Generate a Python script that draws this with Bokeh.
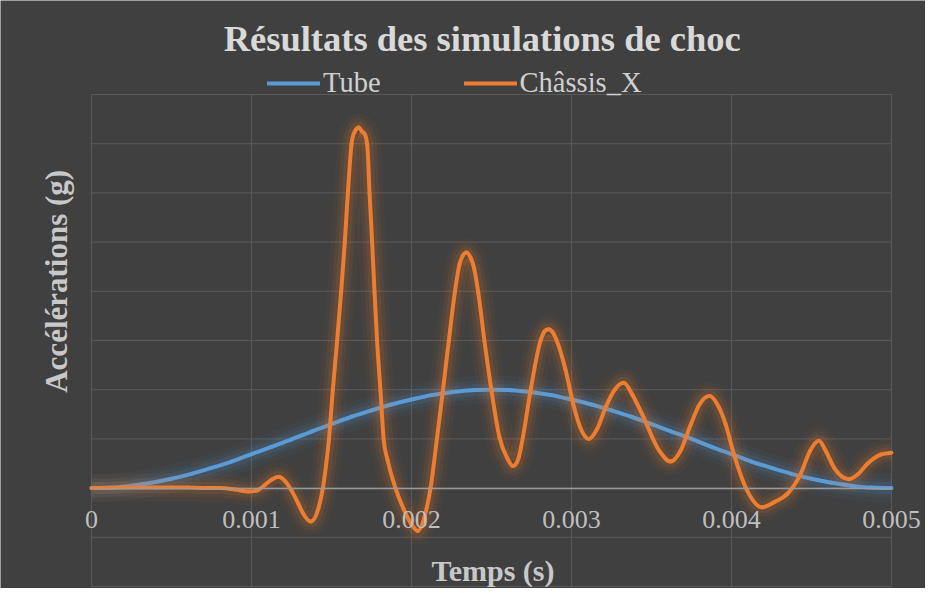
from bokeh.plotting import figure
from bokeh.models import Range1d, FixedTicker, Label, Legend, LegendItem
from bokeh.embed import file_html
from bokeh.resources import INLINE
import math

# ---------------- data ----------------
title_text = "Résultats des simulations de choc"
x_label = "Temps (s)"
y_label = "Accélérations (g)"
series_names = ["Tube", "Châssis_X"]

x_ticks = [0, 0.001, 0.002, 0.003, 0.004, 0.005]
x_tick_labels = ["0", "0.001", "0.002", "0.003", "0.004", "0.005"]
y_grid = [-2, -1, 0, 1, 2, 3, 4, 5, 6, 7, 8]

tube_t = [0, 0.000125, 0.00025, 0.000375, 0.0005, 0.000625, 0.00075, 0.000875,
          0.001, 0.001125, 0.00125, 0.001375, 0.0015, 0.001625, 0.00175, 0.001875,
          0.002, 0.002125, 0.00225, 0.002375, 0.0025, 0.002625, 0.00275, 0.002875,
          0.003, 0.003125, 0.00325, 0.003375, 0.0035, 0.003625, 0.00375, 0.003875,
          0.004, 0.004125, 0.00425, 0.004375, 0.0045, 0.004625, 0.00475, 0.004875, 0.005]
tube_v = [0, 0.01, 0.05, 0.11, 0.19, 0.29, 0.41, 0.54,
          0.69, 0.84, 0.99, 1.15, 1.30, 1.45, 1.58, 1.70,
          1.80, 1.89, 1.95, 1.99, 2.00, 1.99, 1.95, 1.89,
          1.80, 1.70, 1.58, 1.45, 1.30, 1.15, 1.00, 0.84,
          0.69, 0.54, 0.41, 0.29, 0.19, 0.11, 0.05, 0.01, 0]

chassis_t = [0, 0.0001, 0.0002, 0.0003, 0.0004, 0.0005, 0.0006, 0.0007, 0.0008, 0.0009, 0.00098,
             0.00104, 0.00109, 0.00113, 0.00117, 0.00121, 0.00125, 0.00129, 0.00132, 0.00137,
             0.00142, 0.001446, 0.001467, 0.001483, 0.001508, 0.001535, 0.00156, 0.001583,
             0.001602, 0.001625, 0.00165, 0.001671, 0.00169, 0.001723, 0.001738, 0.001754,
             0.001769, 0.001785, 0.001806, 0.001827, 0.00185, 0.0019, 0.00195, 0.002, 0.00204,
             0.00208, 0.002119, 0.00216, 0.002196, 0.002233, 0.002271, 0.0023, 0.00232, 0.002344,
             0.00237, 0.002385, 0.002417, 0.002456, 0.0025, 0.00255, 0.0026, 0.002633, 0.00267,
             0.002696, 0.002744, 0.002806, 0.00283, 0.002858, 0.00288, 0.00291, 0.002963, 0.00301,
             0.003056, 0.003108, 0.00316, 0.003213, 0.00327, 0.003327, 0.00338, 0.003442, 0.00355,
             0.003619, 0.00368, 0.003744, 0.0038, 0.003863, 0.00392, 0.003963, 0.004015, 0.004098,
             0.004192, 0.00427, 0.004348, 0.004431, 0.00449, 0.004546, 0.00459, 0.00464, 0.004733,
             0.00479, 0.004848, 0.004931, 0.005]
chassis_v = [0, 0, 0.01, 0.01, 0.01, 0.01, 0.01, 0.0, 0.0, -0.03, -0.07,
             -0.04, 0.08, 0.18, 0.23, 0.14, -0.05, -0.30, -0.50, -0.68,
             -0.39, 0.0, 0.49, 0.96, 1.98, 2.99, 3.98, 4.99,
             5.98, 6.99, 7.27, 7.33, 7.25, 6.99, 5.98, 4.99,
             3.98, 2.99, 1.98, 0.96, 0.58, 0.0, -0.42, -0.74, -0.87,
             -0.60, 0.0, 1.03, 1.98, 2.99, 3.98, 4.55, 4.72, 4.79,
             4.68, 4.55, 3.98, 2.99, 1.98, 1.03, 0.60, 0.45, 0.62,
             1.03, 1.98, 2.99, 3.18, 3.23, 3.18, 2.98, 2.40, 1.72,
             1.22, 1.00, 1.20, 1.64, 2.00, 2.14, 1.90, 1.50, 0.75,
             0.54, 0.75, 1.28, 1.70, 1.87, 1.65, 1.30, 0.69, -0.05,
             -0.39, -0.28, -0.12, 0.28, 0.75, 0.96, 0.75, 0.42, 0.18,
             0.28, 0.49, 0.68, 0.72]

# ---------------- style ----------------
BG = "#404040"
GRID = "#595959"
BLUE = "#5b9bd5"
ORANGE = "#ed7d31"
FONT = "Liberation Serif"

W, H = 925, 588
PX_PER_S = 160000.0      # horizontal scale of the plot area
PX_PER_UNIT = 49.2       # vertical scale of the plot area
LEFT, TOP = 91, 94       # plot-area origin inside the figure (pixels)

x_start = x_ticks[0] - LEFT / PX_PER_S
x_end = x_start + W / PX_PER_S
y_end = y_grid[-1] + TOP / PX_PER_UNIT
y_start = y_end - H / PX_PER_UNIT

p = figure(width=W, height=H, output_backend="svg", toolbar_location=None,
           x_range=Range1d(x_start, x_end), y_range=Range1d(y_start, y_end))
p.min_border = 0
p.min_border_left = 0
p.min_border_right = 0
p.min_border_top = 0
p.min_border_bottom = 0
p.background_fill_color = BG
p.border_fill_color = BG
p.outline_line_color = None
p.xgrid.visible = False
p.ygrid.visible = False
p.yaxis.visible = False

# grid lines of the plot area, built from the tick lists
nx, ny = len(x_ticks), len(y_grid)
p.segment(x0=x_ticks, y0=[y_grid[0]] * nx, x1=x_ticks, y1=[y_grid[-1]] * nx,
          line_color=GRID, line_width=1)
p.segment(x0=[x_ticks[0]] * ny, y0=y_grid, x1=[x_ticks[-1]] * ny, y1=y_grid,
          line_color=GRID, line_width=1)

# horizontal axis crossing at 0
xt = FixedTicker(ticks=x_ticks)
p.xaxis.ticker = xt
p.xaxis.fixed_location = 0
p.xaxis.bounds = (x_ticks[0], x_ticks[-1])
p.xaxis.major_label_overrides = dict(zip(x_ticks, x_tick_labels))
p.xaxis.axis_line_color = "#9a9a9a"
p.xaxis.axis_line_width = 1.5
p.xaxis.major_tick_line_color = None
p.xaxis.minor_tick_line_color = None
p.xaxis.major_label_standoff = 17
p.xaxis.major_label_text_font = FONT
p.xaxis.major_label_text_font_size = "26px"
p.xaxis.major_label_text_color = "#bfbfbf"


def smooth_segments(t, v):
    """Bezier control points for a smoothed line through the points
    (monotone cubic tangents, no overshoot)."""
    n = len(t)
    h = [t[i + 1] - t[i] for i in range(n - 1)]
    d = [(v[i + 1] - v[i]) / h[i] for i in range(n - 1)]
    m = [0.0] * n
    m[0], m[-1] = d[0], d[-1]
    for i in range(1, n - 1):
        if d[i - 1] * d[i] <= 0:
            m[i] = 0.0
        else:
            m[i] = (h[i] * d[i - 1] + h[i - 1] * d[i]) / (h[i - 1] + h[i])
    for i in range(n - 1):
        if d[i] == 0:
            m[i] = m[i + 1] = 0.0
            continue
        a, b = m[i] / d[i], m[i + 1] / d[i]
        s = a * a + b * b
        if s > 9:
            tau = 3 / math.sqrt(s)
            m[i], m[i + 1] = tau * a * d[i], tau * b * d[i]
    seg = dict(x0=[], y0=[], x1=[], y1=[], cx0=[], cy0=[], cx1=[], cy1=[])
    for i in range(n - 1):
        k = h[i] / 3
        seg["x0"].append(t[i]); seg["y0"].append(v[i])
        seg["x1"].append(t[i + 1]); seg["y1"].append(v[i + 1])
        seg["cx0"].append(t[i] + k); seg["cy0"].append(v[i] + m[i] * k)
        seg["cx1"].append(t[i + 1] - k); seg["cy1"].append(v[i + 1] - m[i + 1] * k)
    return seg


renderers = []
for (t, v, col) in [(tube_t, tube_v, BLUE), (chassis_t, chassis_v, ORANGE)]:
    seg = smooth_segments(t, v)
    for w, a in [(28, 0.05), (19, 0.07), (12, 0.11)]:
        p.bezier(**seg, line_color=col, line_width=w, line_alpha=a, line_cap="butt")
    renderers.append(p.bezier(**seg, line_color=col, line_width=4, line_cap="round"))

legend = Legend(items=[LegendItem(label=series_names[0], renderers=[renderers[0]]),
                       LegendItem(label=series_names[1], renderers=[renderers[1]])],
                orientation="horizontal", location=(267, 489), padding=0, margin=0,
                spacing=83, glyph_width=53, glyph_height=30, label_height=30,
                label_standoff=3, label_text_font=FONT, label_text_font_size="28.5px",
                label_text_color="#d0d0d0", background_fill_alpha=0,
                border_line_color=None)
p.add_layout(legend, "center")

p.add_layout(Label(x=0.002442, y=9.14, text=title_text, text_align="center",
                   text_baseline="alphabetic", text_font=FONT, text_font_size="36.5px",
                   text_font_style="bold", text_color="#d9d9d9"))
p.add_layout(Label(x=0.002509, y=-1.68, text=x_label, text_align="center",
                   text_baseline="alphabetic", text_font=FONT, text_font_size="30px",
                   text_font_style="bold", text_color="#c8c8c8"))
p.add_layout(Label(x=-0.000217, y=4.203, text=y_label, angle=math.pi / 2,
                   text_align="center", text_baseline="alphabetic", text_font=FONT,
                   text_font_size="31px", text_font_style="bold", text_color="#c8c8c8"))

open("out.html", "w").write(file_html(p, INLINE))
